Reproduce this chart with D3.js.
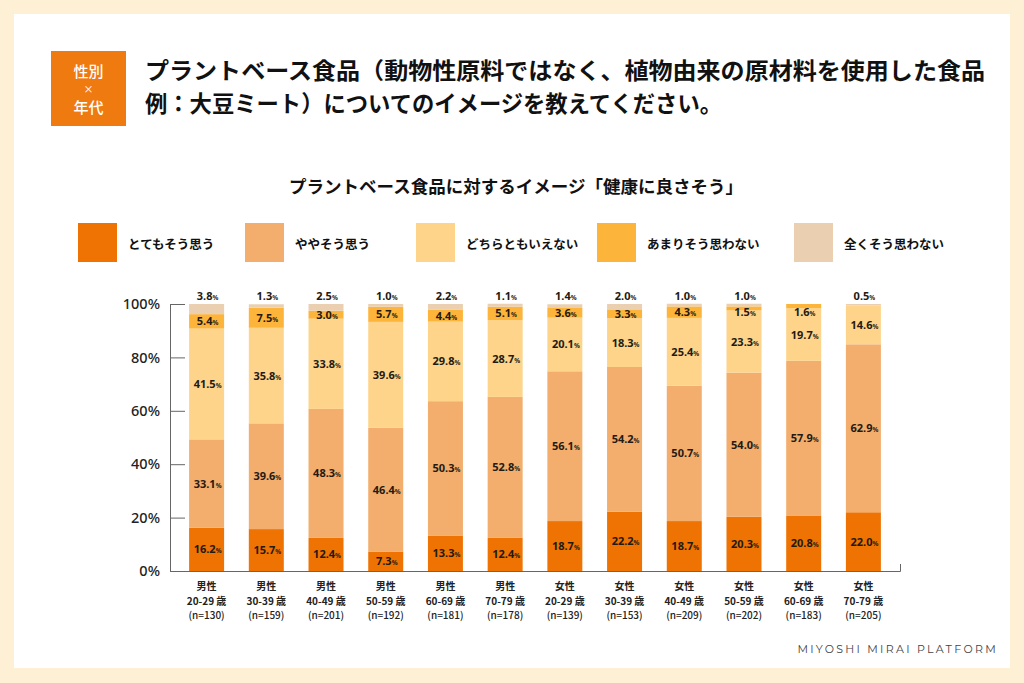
<!DOCTYPE html>
<html>
<head>
<meta charset="utf-8">
<script src="https://cdn.jsdelivr.net/npm/d3@7"></script>
<style>
  html, body { margin: 0; padding: 0; background: #fdf0d5; }
  svg { display: block; }
</style>
</head>
<body>
<svg id="chart" width="1024" height="683"></svg>
<script>
// Categories (x axis)
var genders = ["男性", "男性", "男性", "男性", "男性", "男性", "女性", "女性", "女性", "女性", "女性", "女性"];
var ages = ["20-29 歳", "30-39 歳", "40-49 歳", "50-59 歳", "60-69 歳", "70-79 歳",
            "20-29 歳", "30-39 歳", "40-49 歳", "50-59 歳", "60-69 歳", "70-79 歳"];
var sampleSizes = [130, 159, 201, 192, 181, 178, 139, 153, 209, 202, 183, 205];

// Series values (%)
var veryMuch  = [16.2, 15.7, 12.4, 7.3, 13.3, 12.4, 18.7, 22.2, 18.7, 20.3, 20.8, 22.0];
var somewhat  = [33.1, 39.6, 48.3, 46.4, 50.3, 52.8, 56.1, 54.2, 50.7, 54.0, 57.9, 62.9];
var neither   = [41.5, 35.8, 33.8, 39.6, 29.8, 28.7, 20.1, 18.3, 25.4, 23.3, 19.7, 14.6];
var notMuch   = [5.4, 7.5, 3.0, 5.7, 4.4, 5.1, 3.6, 3.3, 4.3, 1.5, 1.6, 0];
var notAtAll  = [3.8, 1.3, 2.5, 1.0, 2.2, 1.1, 1.4, 2.0, 1.0, 1.0, 0, 0.5];

var seriesNames = ["とてもそう思う", "ややそう思う", "どちらともいえない", "あまりそう思わない", "全くそう思わない"];
var seriesColors = ["#ef7303", "#f3ad6c", "#fed48a", "#fdb43b", "#ead0b1"];

// Y axis ticks
var yTicks = [0, 20, 40, 60, 80, 100];

var JP = "'Noto Sans CJK JP', 'Noto Sans', sans-serif";

(function()
{
    "use strict";

    var svg = d3.select("#chart");

    // Page frame
    svg.append("rect")
        .attr("width", 1024).attr("height", 683)
        .attr("fill", "#fdf0d5");
    svg.append("rect")
        .attr("x", 14).attr("y", 14)
        .attr("width", 996).attr("height", 654)
        .attr("fill", "#ffffff");

    // Badge
    svg.append("rect")
        .attr("x", 51).attr("y", 51)
        .attr("width", 75).attr("height", 75)
        .attr("fill", "#ee7a10");
    var badge = svg.append("g")
        .attr("font-family", JP)
        .attr("font-weight", 500)
        .attr("fill", "#ffffff")
        .attr("text-anchor", "middle");
    badge.append("text").attr("x", 88.5).attr("y", 76.5).attr("font-size", 15).text("性別");
    badge.append("text").attr("x", 88.5).attr("y", 92.8).attr("font-size", 10).text("×");
    badge.append("text").attr("x", 88.5).attr("y", 113).attr("font-size", 15).text("年代");

    // Question heading
    var heading = svg.append("g")
        .attr("font-family", JP)
        .attr("font-size", 23)
        .attr("font-weight", 700)
        .attr("fill", "#111111");
    heading.append("text").attr("x", 145).attr("y", 79)
        .attr("textLength", 840).attr("lengthAdjust", "spacingAndGlyphs")
        .text("プラントベース食品（動物性原料ではなく、植物由来の原材料を使用した食品");
    heading.append("text").attr("x", 145).attr("y", 112)
        .attr("textLength", 577).attr("lengthAdjust", "spacingAndGlyphs")
        .text("例：大豆ミート）についてのイメージを教えてください。");

    // Chart title
    svg.append("text")
        .attr("x", 516).attr("y", 193)
        .attr("text-anchor", "middle")
        .attr("font-family", JP)
        .attr("font-size", 17.5)
        .attr("font-weight", 700)
        .attr("fill", "#111111")
        .text("プラントベース食品に対するイメージ「健康に良さそう」");

    // Legend
    var legendX = [78, 245, 416, 597, 794];
    var legend = svg.append("g").selectAll("g")
        .data(seriesNames)
        .enter().append("g")
            .attr("transform", function(d, i) { return "translate(" + legendX[i] + ",223)"; });
    legend.append("rect")
        .attr("width", 39).attr("height", 39)
        .attr("fill", function(d, i) { return seriesColors[i]; });
    legend.append("text")
        .attr("x", 50).attr("y", 20)
        .attr("dominant-baseline", "central")
        .attr("font-family", JP)
        .attr("font-size", 12.5)
        .attr("font-weight", 700)
        .attr("fill", "#111111")
        .text(function(d) { return d; });

    // Scales
    var categories = d3.range(genders.length);
    var x = d3.scaleBand()
        .domain(categories)
        .range([170, 900])
        .paddingInner(0.414)
        .paddingOuter(0.32);
    var y = d3.scaleLinear()
        .domain([0, 100])
        .range([571, 304]);

    // Stack table built from the series arrays
    var table = categories.map(function(i)
    {
        return { idx: i, s0: veryMuch[i], s1: somewhat[i], s2: neither[i], s3: notMuch[i], s4: notAtAll[i] };
    });
    var keys = ["s0", "s1", "s2", "s3", "s4"];
    var stacked = d3.stack().keys(keys)(table);

    // Bars
    var layers = svg.append("g").selectAll("g")
        .data(stacked)
        .enter().append("g")
            .attr("fill", function(d, i) { return seriesColors[i]; });
    layers.selectAll("rect")
        .data(function(d) { return d; })
        .enter().append("rect")
            .attr("x", function(d) { return x(d.data.idx); })
            .attr("width", x.bandwidth())
            .attr("y", function(d) { return y(d[1]); })
            .attr("height", function(d) { return Math.max(0, y(d[0]) - y(d[1])); });

    // Value labels
    var labelData = [];
    stacked.forEach(function(layer, li)
    {
        layer.forEach(function(d)
        {
            var v = d.data[keys[li]];
            if (v <= 0) return;
            var cy;
            if (li === 4)
                cy = y(100) - 4.5;
            else
                cy = Math.max((y(d[0]) + y(d[1])) / 2 + 4, y(100) + 11.5);
            labelData.push({ x: x(d.data.idx) + x.bandwidth() / 2, y: cy, v: v });
        });
    });
    var labels = svg.append("g").selectAll("text")
        .data(labelData)
        .enter().append("text")
            .attr("x", function(d) { return d.x + 1; })
            .attr("y", function(d) { return d.y; })
            .attr("text-anchor", "middle")
            .attr("font-family", "'Noto Sans', sans-serif")
            .attr("font-weight", 700)
            .attr("fill", "#231a12");
    labels.append("tspan")
        .attr("font-size", 11)
        .text(function(d) { return d.v.toFixed(1); });
    labels.append("tspan")
        .attr("font-size", 6.5)
        .text("%");

    // Y axis (ticks point inward)
    var yAxis = svg.append("g")
        .attr("transform", "translate(170,0)")
        .call(d3.axisLeft(y)
            .tickValues(yTicks)
            .tickFormat(function(d) { return d + "%"; })
            .tickSizeInner(-15)
            .tickSizeOuter(0)
            .tickPadding(10));
    yAxis.select(".domain").attr("stroke", "#666666");
    yAxis.selectAll(".tick line").attr("stroke", "#666666");
    yAxis.selectAll(".tick text")
        .attr("font-family", "'Noto Sans', sans-serif")
        .attr("font-size", 14.5)
        .attr("font-weight", 500)
        .attr("fill", "#222222");

    // X axis
    var xAxis = svg.append("g")
        .attr("transform", "translate(0,571)")
        .call(d3.axisBottom(x)
            .tickSizeInner(0)
            .tickSizeOuter(-7)
            .tickFormat(""));
    xAxis.select(".domain").attr("stroke", "#666666");

    // Category labels: three lines each
    var xLines = [
        { y: 590, weight: 700, text: function(d) { return genders[d]; } },
        { y: 604.5, weight: 700, text: function(d) { return ages[d]; } },
        { y: 619, weight: 500, text: function(d) { return "(n=" + sampleSizes[d] + ")"; } }
    ];
    var xLabelGroup = svg.append("g")
        .attr("text-anchor", "middle")
        .attr("font-family", JP)
        .attr("font-size", 10)
        .attr("fill", "#222222");
    xLines.forEach(function(line)
    {
        xLabelGroup.append("g").selectAll("text")
            .data(categories)
            .enter().append("text")
                .attr("x", function(d) { return x(d) + x.bandwidth() / 2; })
                .attr("y", line.y)
                .attr("font-weight", line.weight)
                .text(line.text);
    });

    // Footer
    svg.append("text")
        .attr("x", 998).attr("y", 653)
        .attr("text-anchor", "end")
        .attr("font-family", "'Montserrat', 'Noto Sans', sans-serif")
        .attr("font-size", 11)
        .attr("letter-spacing", 2.3)
        .attr("fill", "#444444")
        .text("MIYOSHI MIRAI PLATFORM");
})();
</script>
</body>
</html>
